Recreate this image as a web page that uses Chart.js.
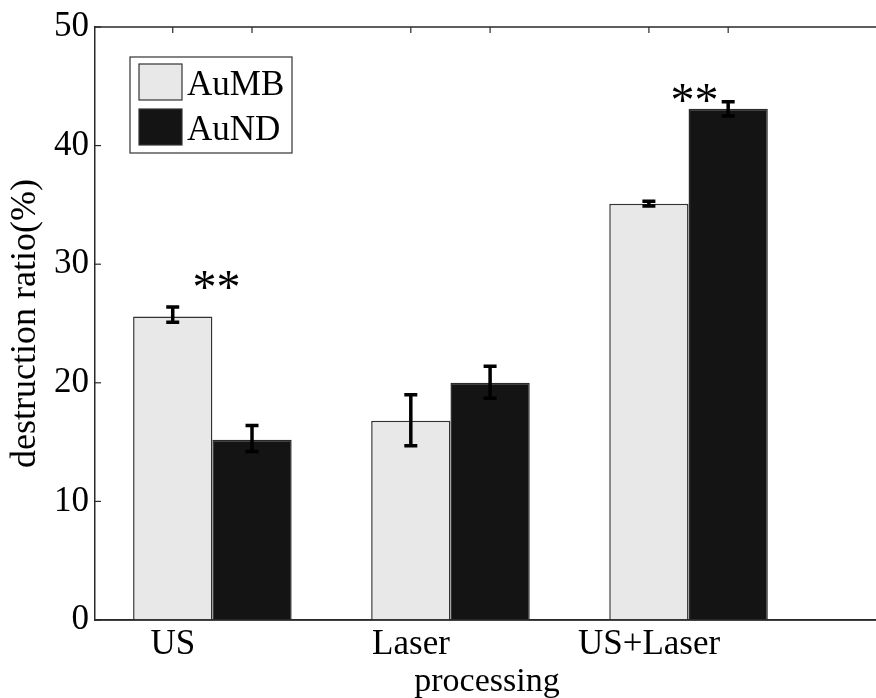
<!DOCTYPE html>
<html>
<head>
<meta charset="utf-8">
<script src="https://cdn.jsdelivr.net/npm/chart.js@4.4.1/dist/chart.umd.min.js"></script>
<style>
html, body { margin: 0; padding: 0; overflow: hidden; background: #fff; }
#wrap { width: 900px; height: 698px; }
</style>
</head>
<body>
<div id="wrap"><canvas id="ratioChart"></canvas></div>
<script>
// processing groups and where they sit on the x axis
var groups = ['US', 'Laser', 'US+Laser'];
var groupPos = [1, 2, 3];

// destruction ratio (%)
var auMB = [25.6, 16.8, 35.1];
var auMBLow = [25.1, 14.7, 34.9];
var auMBHigh = [26.4, 19.0, 35.3];

var auND = [15.2, 20.0, 43.1];
var auNDLow = [14.2, 18.7, 42.5];
var auNDHigh = [16.4, 21.4, 43.7];

var yTicks = [0, 10, 20, 30, 40, 50];

// significance marks (x in group units, y in %)
var starX = [1.017, 3.025];
var starY = [28.7, 44.4];
var starText = ['**', '**'];

Chart.defaults.font.family = 'Liberation Serif';
Chart.defaults.color = '#000';

function toPoints(vals) {
    return groupPos.map(function (p, i) { return { x: p, y: vals[i] }; });
}

var axisColor = '#2a2a2a';

// draws the matlab-ish decorations: top border, inward ticks, error bars, stars, legend
var extras = {
    id: 'extras',
    afterDatasetsDraw: function (chart) {
        var ctx = chart.ctx;
        var xs = chart.scales.x, ys = chart.scales.y;
        var lows = [auMBLow, auNDLow], highs = [auMBHigh, auNDHigh];

        ctx.save();
        ctx.strokeStyle = '#000';
        ctx.lineWidth = 3.5;
        chart.data.datasets.forEach(function (ds, d) {
            chart.getDatasetMeta(d).data.forEach(function (bar, i) {
                var yl = ys.getPixelForValue(lows[d][i]);
                var yh = ys.getPixelForValue(highs[d][i]);
                ctx.beginPath();
                ctx.moveTo(bar.x, yl);
                ctx.lineTo(bar.x, yh);
                ctx.moveTo(bar.x - 6.5, yl);
                ctx.lineTo(bar.x + 6.5, yl);
                ctx.moveTo(bar.x - 6.5, yh);
                ctx.lineTo(bar.x + 6.5, yh);
                ctx.stroke();
            });
        });

        // stars
        ctx.fillStyle = '#000';
        ctx.font = '48px "Liberation Serif"';
        ctx.textAlign = 'center';
        ctx.textBaseline = 'alphabetic';
        for (var s = 0; s < starX.length; s++) {
            ctx.fillText(starText[s], xs.getPixelForValue(starX[s]), ys.getPixelForValue(starY[s]) + 23);
        }
        ctx.restore();
    },
    afterDraw: function (chart) {
        var ctx = chart.ctx;
        var area = chart.chartArea;
        var ys = chart.scales.y;

        ctx.save();
        ctx.strokeStyle = axisColor;
        ctx.lineWidth = 1.5;
        // top and bottom edges run to the right side of the plot
        ctx.beginPath();
        ctx.moveTo(area.left, area.top);
        ctx.lineTo(chart.width, area.top);
        ctx.moveTo(area.left, area.bottom);
        ctx.lineTo(chart.width, area.bottom);
        ctx.stroke();

        // inward y ticks
        ctx.lineWidth = 1.2;
        yTicks.forEach(function (v) {
            var y = ys.getPixelForValue(v);
            ctx.beginPath();
            ctx.moveTo(area.left, y);
            ctx.lineTo(area.left + 6, y);
            ctx.stroke();
        });

        // ticks on the top edge at each bar centre
        chart.data.datasets.forEach(function (ds, d) {
            chart.getDatasetMeta(d).data.forEach(function (bar) {
                ctx.beginPath();
                ctx.moveTo(bar.x, area.top);
                ctx.lineTo(bar.x, area.top + 6);
                ctx.stroke();
            });
        });

        // legend box
        var lx = area.left + 35, ly = area.top + 30;
        ctx.fillStyle = '#fff';
        ctx.fillRect(lx, ly, 162, 96);
        ctx.strokeStyle = '#333';
        ctx.lineWidth = 1.2;
        ctx.strokeRect(lx, ly, 162, 96);
        ctx.font = '35px "Liberation Serif"';
        ctx.textAlign = 'left';
        ctx.textBaseline = 'alphabetic';
        chart.data.datasets.forEach(function (ds, d) {
            var sy = ly + 7 + d * 45;
            ctx.fillStyle = ds.backgroundColor;
            ctx.fillRect(lx + 9, sy, 43, 36);
            ctx.strokeStyle = '#333';
            ctx.lineWidth = 1.2;
            ctx.strokeRect(lx + 9, sy, 43, 36);
            ctx.fillStyle = '#000';
            ctx.fillText(ds.label, lx + 57, sy + 31);
        });
        ctx.restore();
    }
};

new Chart(document.getElementById('ratioChart'), {
    type: 'bar',
    data: {
        datasets: [
            {
                label: 'AuMB',
                data: toPoints(auMB),
                backgroundColor: '#e8e8e8',
                borderColor: '#333',
                borderWidth: 1.5
            },
            {
                label: 'AuND',
                data: toPoints(auND),
                backgroundColor: '#141414',
                borderColor: '#2a2a2a',
                borderWidth: 1.5
            }
        ]
    },
    options: {
        responsive: true,
        maintainAspectRatio: false,
        animation: false,
        categoryPercentage: 0.666,
        barPercentage: 1,
        layout: { padding: { top: 25, right: 21, left: 0, bottom: 0 } },
        plugins: {
            legend: { display: false },
            tooltip: { enabled: false }
        },
        scales: {
            x: {
                type: 'linear',
                offset: false,
                min: 0.507,
                max: 3.8,
                afterBuildTicks: function (scale) {
                    scale.ticks = groupPos.map(function (v) { return { value: v }; });
                },
                afterFit: function (scale) { scale.height = 78; },
                ticks: {
                    autoSkip: false,
                    maxRotation: 0,
                    padding: 4,
                    labelOffset: -39.5,
                    font: { size: 35 },
                    callback: function (v) { return groups[groupPos.indexOf(v)]; }
                },
                grid: { drawOnChartArea: false, drawTicks: false },
                border: { color: axisColor, width: 1.5 },
                title: {
                    display: true,
                    text: 'processing',
                    font: { size: 34, lineHeight: 1 },
                    padding: { top: 0, bottom: -1 }
                }
            },
            y: {
                min: 0,
                max: 50,
                afterBuildTicks: function (scale) {
                    scale.ticks = yTicks.map(function (v) { return { value: v }; });
                },
                afterFit: function (scale) { scale.width = 95; },
                ticks: { padding: 6, font: { size: 35 } },
                grid: { drawOnChartArea: false, drawTicks: false },
                border: { color: axisColor, width: 1.5 },
                title: {
                    display: true,
                    text: 'destruction ratio(%)',
                    font: { size: 36 },
                    padding: { top: 4, bottom: 0 }
                }
            }
        }
    },
    plugins: [extras]
});
</script>
</body>
</html>
